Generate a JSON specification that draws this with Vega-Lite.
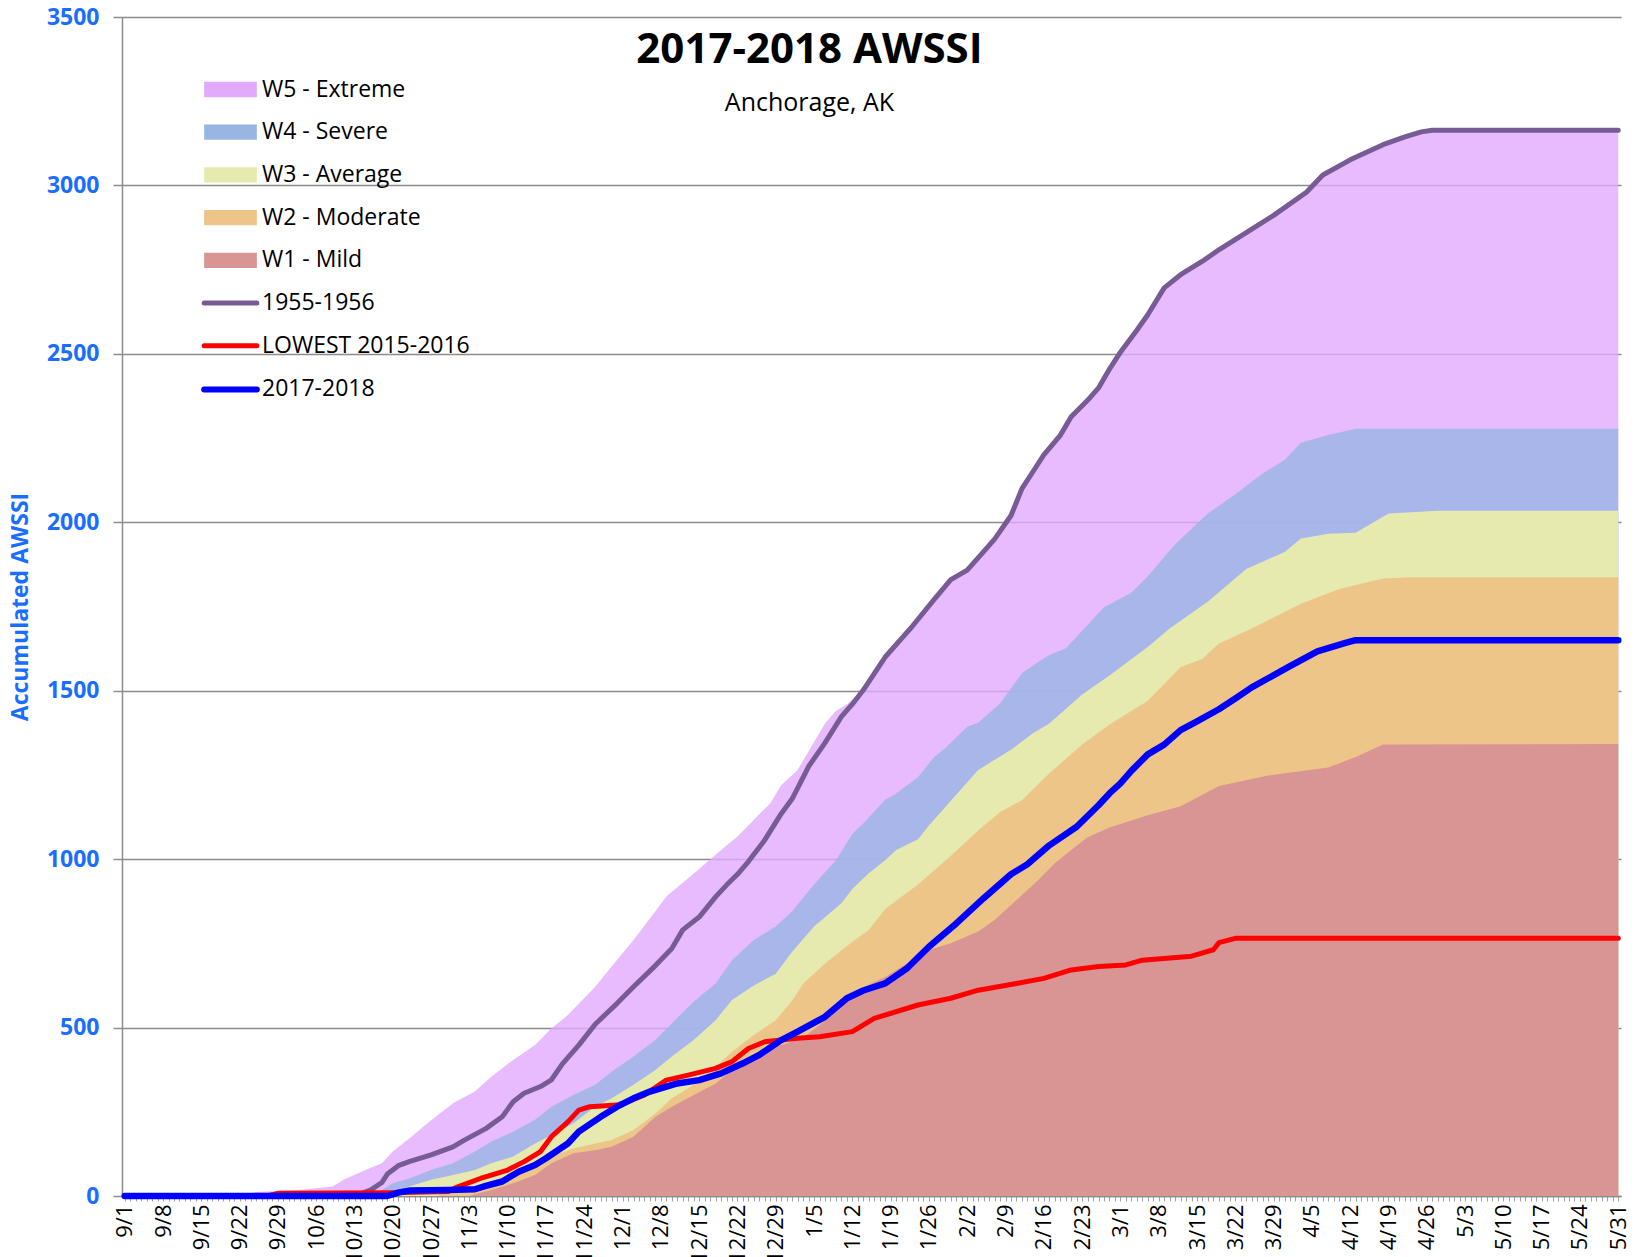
{
  "$schema": "https://vega.github.io/schema/vega-lite/v6.json",
  "width": 1499,
  "height": 1179,
  "autosize": {"type": "none"},
  "padding": {"left": 122, "top": 17, "right": 16, "bottom": 61},
  "background": "#FFFFFF",
  "config": {"view": {"stroke": null}, "font": "Open Sans"},
  "title": {"text": "2017-2018 AWSSI", "subtitle": "Anchorage, AK", "anchor": "middle", "frame": "group", "offset": -110.5, "dx": -62, "font": "Open Sans", "fontSize": 42, "fontWeight": "bold", "color": "#000000", "subtitleFont": "Open Sans", "subtitleFontSize": 25, "subtitleColor": "#000000", "subtitlePadding": 19},
  "data": {"values": [
    {"date":"9/1","series":"W5 - Extreme","value":0},{"date":"9/22","series":"W5 - Extreme","value":0},{"date":"9/25","series":"W5 - Extreme","value":12},{"date":"10/3","series":"W5 - Extreme","value":18},{"date":"10/9","series":"W5 - Extreme","value":28},{"date":"10/11","series":"W5 - Extreme","value":48},{"date":"10/15","series":"W5 - Extreme","value":77},{"date":"10/18","series":"W5 - Extreme","value":97},{"date":"10/20","series":"W5 - Extreme","value":132},{"date":"10/23","series":"W5 - Extreme","value":171},{"date":"10/27","series":"W5 - Extreme","value":225},{"date":"10/31","series":"W5 - Extreme","value":275},{"date":"11/4","series":"W5 - Extreme","value":310},{"date":"11/7","series":"W5 - Extreme","value":354},{"date":"11/11","series":"W5 - Extreme","value":404},{"date":"11/15","series":"W5 - Extreme","value":448},{"date":"11/18","series":"W5 - Extreme","value":498},{"date":"11/21","series":"W5 - Extreme","value":537},{"date":"11/26","series":"W5 - Extreme","value":621},{"date":"11/29","series":"W5 - Extreme","value":681},{"date":"12/3","series":"W5 - Extreme","value":760},{"date":"12/7","series":"W5 - Extreme","value":845},{"date":"12/9","series":"W5 - Extreme","value":889},{"date":"12/15","series":"W5 - Extreme","value":971},{"date":"12/19","series":"W5 - Extreme","value":1027},{"date":"12/22","series":"W5 - Extreme","value":1067},{"date":"12/28","series":"W5 - Extreme","value":1166},{"date":"12/30","series":"W5 - Extreme","value":1219},{"date":"1/2","series":"W5 - Extreme","value":1265},{"date":"1/4","series":"W5 - Extreme","value":1320},{"date":"1/7","series":"W5 - Extreme","value":1403},{"date":"1/9","series":"W5 - Extreme","value":1440},{"date":"1/11","series":"W5 - Extreme","value":1460},{"date":"1/14","series":"W5 - Extreme","value":1502},{"date":"1/18","series":"W5 - Extreme","value":1600},{"date":"1/23","series":"W5 - Extreme","value":1692},{"date":"1/27","series":"W5 - Extreme","value":1772},{"date":"1/30","series":"W5 - Extreme","value":1830},{"date":"2/2","series":"W5 - Extreme","value":1858},{"date":"2/5","series":"W5 - Extreme","value":1913},{"date":"2/7","series":"W5 - Extreme","value":1950},{"date":"2/10","series":"W5 - Extreme","value":2020},{"date":"2/12","series":"W5 - Extreme","value":2100},{"date":"2/14","series":"W5 - Extreme","value":2150},{"date":"2/16","series":"W5 - Extreme","value":2200},{"date":"2/19","series":"W5 - Extreme","value":2258},{"date":"2/21","series":"W5 - Extreme","value":2313},{"date":"2/24","series":"W5 - Extreme","value":2362},{"date":"2/26","series":"W5 - Extreme","value":2399},{"date":"2/28","series":"W5 - Extreme","value":2455},{"date":"3/1","series":"W5 - Extreme","value":2505},{"date":"3/4","series":"W5 - Extreme","value":2570},{"date":"3/6","series":"W5 - Extreme","value":2616},{"date":"3/9","series":"W5 - Extreme","value":2696},{"date":"3/12","series":"W5 - Extreme","value":2735},{"date":"3/16","series":"W5 - Extreme","value":2775},{"date":"3/19","series":"W5 - Extreme","value":2809},{"date":"3/24","series":"W5 - Extreme","value":2860},{"date":"3/29","series":"W5 - Extreme","value":2911},{"date":"4/4","series":"W5 - Extreme","value":2980},{"date":"4/7","series":"W5 - Extreme","value":3031},{"date":"4/12","series":"W5 - Extreme","value":3076},{"date":"4/18","series":"W5 - Extreme","value":3121},{"date":"4/22","series":"W5 - Extreme","value":3144},{"date":"4/25","series":"W5 - Extreme","value":3159},{"date":"4/27","series":"W5 - Extreme","value":3164},{"date":"5/31","series":"W5 - Extreme","value":3164},

    {"date":"9/1","series":"W4 - Severe","value":0},{"date":"10/15","series":"W4 - Severe","value":0},{"date":"10/17","series":"W4 - Severe","value":8},{"date":"10/20","series":"W4 - Severe","value":38},{"date":"10/23","series":"W4 - Severe","value":52},{"date":"10/27","series":"W4 - Severe","value":77},{"date":"10/31","series":"W4 - Severe","value":97},{"date":"11/4","series":"W4 - Severe","value":132},{"date":"11/7","series":"W4 - Severe","value":161},{"date":"11/11","series":"W4 - Severe","value":191},{"date":"11/15","series":"W4 - Severe","value":226},{"date":"11/18","series":"W4 - Severe","value":265},{"date":"11/22","series":"W4 - Severe","value":300},{"date":"11/26","series":"W4 - Severe","value":330},{"date":"11/29","series":"W4 - Severe","value":369},{"date":"12/3","series":"W4 - Severe","value":414},{"date":"12/7","series":"W4 - Severe","value":463},{"date":"12/10","series":"W4 - Severe","value":513},{"date":"12/14","series":"W4 - Severe","value":577},{"date":"12/18","series":"W4 - Severe","value":631},{"date":"12/21","series":"W4 - Severe","value":700},{"date":"12/25","series":"W4 - Severe","value":760},{"date":"12/29","series":"W4 - Severe","value":800},{"date":"1/1","series":"W4 - Severe","value":845},{"date":"1/5","series":"W4 - Severe","value":925},{"date":"1/9","series":"W4 - Severe","value":997},{"date":"1/12","series":"W4 - Severe","value":1075},{"date":"1/14","series":"W4 - Severe","value":1106},{"date":"1/18","series":"W4 - Severe","value":1176},{"date":"1/20","series":"W4 - Severe","value":1195},{"date":"1/24","series":"W4 - Severe","value":1243},{"date":"1/27","series":"W4 - Severe","value":1304},{"date":"1/29","series":"W4 - Severe","value":1329},{"date":"2/2","series":"W4 - Severe","value":1393},{"date":"2/4","series":"W4 - Severe","value":1405},{"date":"2/8","series":"W4 - Severe","value":1462},{"date":"2/12","series":"W4 - Severe","value":1552},{"date":"2/15","series":"W4 - Severe","value":1585},{"date":"2/17","series":"W4 - Severe","value":1606},{"date":"2/20","series":"W4 - Severe","value":1625},{"date":"2/27","series":"W4 - Severe","value":1748},{"date":"3/3","series":"W4 - Severe","value":1791},{"date":"3/6","series":"W4 - Severe","value":1840},{"date":"3/11","series":"W4 - Severe","value":1935},{"date":"3/17","series":"W4 - Severe","value":2026},{"date":"3/22","series":"W4 - Severe","value":2083},{"date":"3/27","series":"W4 - Severe","value":2145},{"date":"3/31","series":"W4 - Severe","value":2185},{"date":"4/3","series":"W4 - Severe","value":2236},{"date":"4/8","series":"W4 - Severe","value":2259},{"date":"4/13","series":"W4 - Severe","value":2278},{"date":"5/31","series":"W4 - Severe","value":2278},

    {"date":"9/1","series":"W3 - Average","value":0},{"date":"10/19","series":"W3 - Average","value":0},{"date":"10/20","series":"W3 - Average","value":5},{"date":"10/23","series":"W3 - Average","value":28},{"date":"10/27","series":"W3 - Average","value":48},{"date":"10/31","series":"W3 - Average","value":62},{"date":"11/4","series":"W3 - Average","value":77},{"date":"11/7","series":"W3 - Average","value":97},{"date":"11/11","series":"W3 - Average","value":117},{"date":"11/15","series":"W3 - Average","value":156},{"date":"11/18","series":"W3 - Average","value":181},{"date":"11/22","series":"W3 - Average","value":216},{"date":"11/26","series":"W3 - Average","value":265},{"date":"11/29","series":"W3 - Average","value":290},{"date":"12/3","series":"W3 - Average","value":330},{"date":"12/7","series":"W3 - Average","value":374},{"date":"12/10","series":"W3 - Average","value":414},{"date":"12/14","series":"W3 - Average","value":463},{"date":"12/18","series":"W3 - Average","value":522},{"date":"12/21","series":"W3 - Average","value":582},{"date":"12/25","series":"W3 - Average","value":625},{"date":"12/29","series":"W3 - Average","value":660},{"date":"1/1","series":"W3 - Average","value":725},{"date":"1/5","series":"W3 - Average","value":800},{"date":"1/10","series":"W3 - Average","value":869},{"date":"1/12","series":"W3 - Average","value":911},{"date":"1/15","series":"W3 - Average","value":958},{"date":"1/18","series":"W3 - Average","value":997},{"date":"1/20","series":"W3 - Average","value":1027},{"date":"1/24","series":"W3 - Average","value":1059},{"date":"1/26","series":"W3 - Average","value":1100},{"date":"1/30","series":"W3 - Average","value":1173},{"date":"2/4","series":"W3 - Average","value":1265},{"date":"2/10","series":"W3 - Average","value":1325},{"date":"2/14","series":"W3 - Average","value":1374},{"date":"2/17","series":"W3 - Average","value":1403},{"date":"2/23","series":"W3 - Average","value":1489},{"date":"2/28","series":"W3 - Average","value":1545},{"date":"3/6","series":"W3 - Average","value":1630},{"date":"3/10","series":"W3 - Average","value":1685},{"date":"3/17","series":"W3 - Average","value":1765},{"date":"3/24","series":"W3 - Average","value":1861},{"date":"3/31","series":"W3 - Average","value":1912},{"date":"4/3","series":"W3 - Average","value":1952},{"date":"4/8","series":"W3 - Average","value":1966},{"date":"4/13","series":"W3 - Average","value":1969},{"date":"4/19","series":"W3 - Average","value":2026},{"date":"4/28","series":"W3 - Average","value":2034},{"date":"5/31","series":"W3 - Average","value":2034},

    {"date":"9/1","series":"W2 - Moderate","value":0},{"date":"10/28","series":"W2 - Moderate","value":0},{"date":"10/29","series":"W2 - Moderate","value":5},{"date":"10/31","series":"W2 - Moderate","value":18},{"date":"11/4","series":"W2 - Moderate","value":28},{"date":"11/7","series":"W2 - Moderate","value":43},{"date":"11/11","series":"W2 - Moderate","value":62},{"date":"11/15","series":"W2 - Moderate","value":87},{"date":"11/18","series":"W2 - Moderate","value":117},{"date":"11/22","series":"W2 - Moderate","value":141},{"date":"11/26","series":"W2 - Moderate","value":156},{"date":"11/29","series":"W2 - Moderate","value":166},{"date":"12/3","series":"W2 - Moderate","value":196},{"date":"12/7","series":"W2 - Moderate","value":245},{"date":"12/10","series":"W2 - Moderate","value":290},{"date":"12/14","series":"W2 - Moderate","value":330},{"date":"12/18","series":"W2 - Moderate","value":384},{"date":"12/21","series":"W2 - Moderate","value":428},{"date":"12/25","series":"W2 - Moderate","value":478},{"date":"12/29","series":"W2 - Moderate","value":522},{"date":"1/1","series":"W2 - Moderate","value":580},{"date":"1/3","series":"W2 - Moderate","value":630},{"date":"1/7","series":"W2 - Moderate","value":690},{"date":"1/12","series":"W2 - Moderate","value":755},{"date":"1/15","series":"W2 - Moderate","value":790},{"date":"1/18","series":"W2 - Moderate","value":852},{"date":"1/24","series":"W2 - Moderate","value":925},{"date":"1/30","series":"W2 - Moderate","value":1010},{"date":"2/4","series":"W2 - Moderate","value":1085},{"date":"2/8","series":"W2 - Moderate","value":1140},{"date":"2/12","series":"W2 - Moderate","value":1175},{"date":"2/17","series":"W2 - Moderate","value":1255},{"date":"2/23","series":"W2 - Moderate","value":1340},{"date":"2/28","series":"W2 - Moderate","value":1400},{"date":"3/6","series":"W2 - Moderate","value":1470},{"date":"3/12","series":"W2 - Moderate","value":1570},{"date":"3/16","series":"W2 - Moderate","value":1595},{"date":"3/19","series":"W2 - Moderate","value":1640},{"date":"3/25","series":"W2 - Moderate","value":1685},{"date":"4/3","series":"W2 - Moderate","value":1758},{"date":"4/10","series":"W2 - Moderate","value":1802},{"date":"4/18","series":"W2 - Moderate","value":1833},{"date":"4/23","series":"W2 - Moderate","value":1837},{"date":"5/31","series":"W2 - Moderate","value":1837},

    {"date":"9/1","series":"W1 - Mild","value":0},{"date":"11/3","series":"W1 - Mild","value":0},{"date":"11/4","series":"W1 - Mild","value":5},{"date":"11/7","series":"W1 - Mild","value":18},{"date":"11/11","series":"W1 - Mild","value":38},{"date":"11/15","series":"W1 - Mild","value":62},{"date":"11/18","series":"W1 - Mild","value":97},{"date":"11/22","series":"W1 - Mild","value":127},{"date":"11/26","series":"W1 - Mild","value":136},{"date":"11/29","series":"W1 - Mild","value":146},{"date":"12/3","series":"W1 - Mild","value":176},{"date":"12/7","series":"W1 - Mild","value":235},{"date":"12/10","series":"W1 - Mild","value":265},{"date":"12/14","series":"W1 - Mild","value":300},{"date":"12/18","series":"W1 - Mild","value":334},{"date":"12/21","series":"W1 - Mild","value":374},{"date":"12/25","series":"W1 - Mild","value":404},{"date":"12/29","series":"W1 - Mild","value":443},{"date":"1/1","series":"W1 - Mild","value":458},{"date":"1/3","series":"W1 - Mild","value":470},{"date":"1/7","series":"W1 - Mild","value":520},{"date":"1/11","series":"W1 - Mild","value":580},{"date":"1/14","series":"W1 - Mild","value":620},{"date":"1/18","series":"W1 - Mild","value":650},{"date":"1/22","series":"W1 - Mild","value":691},{"date":"1/26","series":"W1 - Mild","value":730},{"date":"1/30","series":"W1 - Mild","value":750},{"date":"2/4","series":"W1 - Mild","value":785},{"date":"2/7","series":"W1 - Mild","value":819},{"date":"2/11","series":"W1 - Mild","value":879},{"date":"2/15","series":"W1 - Mild","value":938},{"date":"2/18","series":"W1 - Mild","value":988},{"date":"2/21","series":"W1 - Mild","value":1027},{"date":"2/24","series":"W1 - Mild","value":1065},{"date":"2/28","series":"W1 - Mild","value":1094},{"date":"3/6","series":"W1 - Mild","value":1130},{"date":"3/12","series":"W1 - Mild","value":1157},{"date":"3/14","series":"W1 - Mild","value":1174},{"date":"3/19","series":"W1 - Mild","value":1217},{"date":"3/28","series":"W1 - Mild","value":1248},{"date":"4/8","series":"W1 - Mild","value":1272},{"date":"4/13","series":"W1 - Mild","value":1303},{"date":"4/18","series":"W1 - Mild","value":1340},{"date":"5/31","series":"W1 - Mild","value":1342},

    {"date":"9/1","series":"1955-1956","value":0},{"date":"10/13","series":"1955-1956","value":0},{"date":"10/16","series":"1955-1956","value":18},{"date":"10/18","series":"1955-1956","value":40},{"date":"10/19","series":"1955-1956","value":65},{"date":"10/21","series":"1955-1956","value":90},{"date":"10/23","series":"1955-1956","value":102},{"date":"10/27","series":"1955-1956","value":122},{"date":"10/31","series":"1955-1956","value":146},{"date":"11/2","series":"1955-1956","value":165},{"date":"11/6","series":"1955-1956","value":200},{"date":"11/9","series":"1955-1956","value":235},{"date":"11/11","series":"1955-1956","value":280},{"date":"11/13","series":"1955-1956","value":305},{"date":"11/16","series":"1955-1956","value":325},{"date":"11/18","series":"1955-1956","value":345},{"date":"11/20","series":"1955-1956","value":392},{"date":"11/23","series":"1955-1956","value":448},{"date":"11/26","series":"1955-1956","value":510},{"date":"11/30","series":"1955-1956","value":572},{"date":"12/3","series":"1955-1956","value":621},{"date":"12/7","series":"1955-1956","value":684},{"date":"12/10","series":"1955-1956","value":735},{"date":"12/12","series":"1955-1956","value":790},{"date":"12/15","series":"1955-1956","value":828},{"date":"12/18","series":"1955-1956","value":888},{"date":"12/20","series":"1955-1956","value":923},{"date":"12/22","series":"1955-1956","value":955},{"date":"12/24","series":"1955-1956","value":993},{"date":"12/27","series":"1955-1956","value":1057},{"date":"12/30","series":"1955-1956","value":1135},{"date":"1/1","series":"1955-1956","value":1179},{"date":"1/4","series":"1955-1956","value":1275},{"date":"1/7","series":"1955-1956","value":1345},{"date":"1/10","series":"1955-1956","value":1423},{"date":"1/12","series":"1955-1956","value":1460},{"date":"1/14","series":"1955-1956","value":1502},{"date":"1/18","series":"1955-1956","value":1600},{"date":"1/23","series":"1955-1956","value":1692},{"date":"1/27","series":"1955-1956","value":1772},{"date":"1/30","series":"1955-1956","value":1830},{"date":"2/2","series":"1955-1956","value":1858},{"date":"2/5","series":"1955-1956","value":1913},{"date":"2/7","series":"1955-1956","value":1950},{"date":"2/10","series":"1955-1956","value":2020},{"date":"2/12","series":"1955-1956","value":2100},{"date":"2/14","series":"1955-1956","value":2150},{"date":"2/16","series":"1955-1956","value":2200},{"date":"2/19","series":"1955-1956","value":2258},{"date":"2/21","series":"1955-1956","value":2313},{"date":"2/24","series":"1955-1956","value":2362},{"date":"2/26","series":"1955-1956","value":2399},{"date":"2/28","series":"1955-1956","value":2455},{"date":"3/1","series":"1955-1956","value":2505},{"date":"3/4","series":"1955-1956","value":2570},{"date":"3/6","series":"1955-1956","value":2616},{"date":"3/9","series":"1955-1956","value":2696},{"date":"3/12","series":"1955-1956","value":2735},{"date":"3/16","series":"1955-1956","value":2775},{"date":"3/19","series":"1955-1956","value":2809},{"date":"3/24","series":"1955-1956","value":2860},{"date":"3/29","series":"1955-1956","value":2911},{"date":"4/4","series":"1955-1956","value":2980},{"date":"4/7","series":"1955-1956","value":3031},{"date":"4/12","series":"1955-1956","value":3076},{"date":"4/18","series":"1955-1956","value":3121},{"date":"4/22","series":"1955-1956","value":3144},{"date":"4/25","series":"1955-1956","value":3159},{"date":"4/27","series":"1955-1956","value":3164},{"date":"5/31","series":"1955-1956","value":3164},

    {"date":"9/1","series":"LOWEST 2015-2016","value":0},{"date":"9/27","series":"LOWEST 2015-2016","value":0},{"date":"9/29","series":"LOWEST 2015-2016","value":8},{"date":"10/20","series":"LOWEST 2015-2016","value":10},{"date":"10/30","series":"LOWEST 2015-2016","value":13},{"date":"11/1","series":"LOWEST 2015-2016","value":28},{"date":"11/5","series":"LOWEST 2015-2016","value":52},{"date":"11/7","series":"LOWEST 2015-2016","value":62},{"date":"11/10","series":"LOWEST 2015-2016","value":77},{"date":"11/13","series":"LOWEST 2015-2016","value":102},{"date":"11/16","series":"LOWEST 2015-2016","value":132},{"date":"11/18","series":"LOWEST 2015-2016","value":176},{"date":"11/21","series":"LOWEST 2015-2016","value":220},{"date":"11/23","series":"LOWEST 2015-2016","value":255},{"date":"11/25","series":"LOWEST 2015-2016","value":265},{"date":"11/30","series":"LOWEST 2015-2016","value":270},{"date":"12/2","series":"LOWEST 2015-2016","value":280},{"date":"12/5","series":"LOWEST 2015-2016","value":300},{"date":"12/9","series":"LOWEST 2015-2016","value":344},{"date":"12/13","series":"LOWEST 2015-2016","value":359},{"date":"12/18","series":"LOWEST 2015-2016","value":379},{"date":"12/21","series":"LOWEST 2015-2016","value":399},{"date":"12/24","series":"LOWEST 2015-2016","value":438},{"date":"12/27","series":"LOWEST 2015-2016","value":458},{"date":"12/30","series":"LOWEST 2015-2016","value":463},{"date":"1/2","series":"LOWEST 2015-2016","value":468},{"date":"1/6","series":"LOWEST 2015-2016","value":473},{"date":"1/12","series":"LOWEST 2015-2016","value":488},{"date":"1/16","series":"LOWEST 2015-2016","value":527},{"date":"1/24","series":"LOWEST 2015-2016","value":567},{"date":"1/30","series":"LOWEST 2015-2016","value":587},{"date":"2/4","series":"LOWEST 2015-2016","value":611},{"date":"2/11","series":"LOWEST 2015-2016","value":631},{"date":"2/16","series":"LOWEST 2015-2016","value":646},{"date":"2/21","series":"LOWEST 2015-2016","value":671},{"date":"2/26","series":"LOWEST 2015-2016","value":681},{"date":"3/2","series":"LOWEST 2015-2016","value":686},{"date":"3/5","series":"LOWEST 2015-2016","value":700},{"date":"3/14","series":"LOWEST 2015-2016","value":712},{"date":"3/18","series":"LOWEST 2015-2016","value":731},{"date":"3/19","series":"LOWEST 2015-2016","value":752},{"date":"3/22","series":"LOWEST 2015-2016","value":765},{"date":"5/31","series":"LOWEST 2015-2016","value":765},

    {"date":"9/1","series":"2017-2018","value":0},{"date":"10/19","series":"2017-2018","value":0},{"date":"10/21","series":"2017-2018","value":10},{"date":"10/23","series":"2017-2018","value":16},{"date":"10/30","series":"2017-2018","value":18},{"date":"11/4","series":"2017-2018","value":20},{"date":"11/6","series":"2017-2018","value":30},{"date":"11/9","series":"2017-2018","value":43},{"date":"11/12","series":"2017-2018","value":72},{"date":"11/15","series":"2017-2018","value":92},{"date":"11/17","series":"2017-2018","value":112},{"date":"11/21","series":"2017-2018","value":156},{"date":"11/23","series":"2017-2018","value":191},{"date":"11/27","series":"2017-2018","value":235},{"date":"11/30","series":"2017-2018","value":265},{"date":"12/3","series":"2017-2018","value":290},{"date":"12/6","series":"2017-2018","value":310},{"date":"12/11","series":"2017-2018","value":334},{"date":"12/15","series":"2017-2018","value":344},{"date":"12/19","series":"2017-2018","value":364},{"date":"12/23","series":"2017-2018","value":394},{"date":"12/26","series":"2017-2018","value":419},{"date":"12/30","series":"2017-2018","value":463},{"date":"1/2","series":"2017-2018","value":488},{"date":"1/7","series":"2017-2018","value":532},{"date":"1/11","series":"2017-2018","value":587},{"date":"1/14","series":"2017-2018","value":610},{"date":"1/18","series":"2017-2018","value":631},{"date":"1/22","series":"2017-2018","value":676},{"date":"1/26","series":"2017-2018","value":740},{"date":"1/31","series":"2017-2018","value":809},{"date":"2/5","series":"2017-2018","value":884},{"date":"2/10","series":"2017-2018","value":955},{"date":"2/13","series":"2017-2018","value":985},{"date":"2/17","series":"2017-2018","value":1041},{"date":"2/22","series":"2017-2018","value":1096},{"date":"2/26","series":"2017-2018","value":1160},{"date":"2/28","series":"2017-2018","value":1195},{"date":"3/1","series":"2017-2018","value":1225},{"date":"3/3","series":"2017-2018","value":1262},{"date":"3/6","series":"2017-2018","value":1311},{"date":"3/9","series":"2017-2018","value":1340},{"date":"3/12","series":"2017-2018","value":1383},{"date":"3/15","series":"2017-2018","value":1409},{"date":"3/19","series":"2017-2018","value":1445},{"date":"3/22","series":"2017-2018","value":1477},{"date":"3/25","series":"2017-2018","value":1510},{"date":"4/1","series":"2017-2018","value":1573},{"date":"4/6","series":"2017-2018","value":1617},{"date":"4/11","series":"2017-2018","value":1641},{"date":"4/13","series":"2017-2018","value":1650},{"date":"5/31","series":"2017-2018","value":1650}
  ]},
  "encoding": {
    "x": {
      "field": "date", "type": "ordinal",
      "scale": {"type": "point", "padding": 0.5, "domain": ["9/1","9/2","9/3","9/4","9/5","9/6","9/7","9/8","9/9","9/10","9/11","9/12","9/13","9/14","9/15","9/16","9/17","9/18","9/19","9/20","9/21","9/22","9/23","9/24","9/25","9/26","9/27","9/28","9/29","9/30","10/1","10/2","10/3","10/4","10/5","10/6","10/7","10/8","10/9","10/10","10/11","10/12","10/13","10/14","10/15","10/16","10/17","10/18","10/19","10/20","10/21","10/22","10/23","10/24","10/25","10/26","10/27","10/28","10/29","10/30","10/31","11/1","11/2","11/3","11/4","11/5","11/6","11/7","11/8","11/9","11/10","11/11","11/12","11/13","11/14","11/15","11/16","11/17","11/18","11/19","11/20","11/21","11/22","11/23","11/24","11/25","11/26","11/27","11/28","11/29","11/30","12/1","12/2","12/3","12/4","12/5","12/6","12/7","12/8","12/9","12/10","12/11","12/12","12/13","12/14","12/15","12/16","12/17","12/18","12/19","12/20","12/21","12/22","12/23","12/24","12/25","12/26","12/27","12/28","12/29","12/30","12/31","1/1","1/2","1/3","1/4","1/5","1/6","1/7","1/8","1/9","1/10","1/11","1/12","1/13","1/14","1/15","1/16","1/17","1/18","1/19","1/20","1/21","1/22","1/23","1/24","1/25","1/26","1/27","1/28","1/29","1/30","1/31","2/1","2/2","2/3","2/4","2/5","2/6","2/7","2/8","2/9","2/10","2/11","2/12","2/13","2/14","2/15","2/16","2/17","2/18","2/19","2/20","2/21","2/22","2/23","2/24","2/25","2/26","2/27","2/28","2/29","3/1","3/2","3/3","3/4","3/5","3/6","3/7","3/8","3/9","3/10","3/11","3/12","3/13","3/14","3/15","3/16","3/17","3/18","3/19","3/20","3/21","3/22","3/23","3/24","3/25","3/26","3/27","3/28","3/29","3/30","3/31","4/1","4/2","4/3","4/4","4/5","4/6","4/7","4/8","4/9","4/10","4/11","4/12","4/13","4/14","4/15","4/16","4/17","4/18","4/19","4/20","4/21","4/22","4/23","4/24","4/25","4/26","4/27","4/28","4/29","4/30","5/1","5/2","5/3","5/4","5/5","5/6","5/7","5/8","5/9","5/10","5/11","5/12","5/13","5/14","5/15","5/16","5/17","5/18","5/19","5/20","5/21","5/22","5/23","5/24","5/25","5/26","5/27","5/28","5/29","5/30","5/31"]},
      "axis": {"title": null, "labelAngle": 270, "labelFont": "Open Sans", "labelFontSize": 22, "labelColor": "#000000", "labelOverlap": false, "labelBound": false, "labelPadding": 3, "labelExpr": "round(datum.index * 273) % 7 == 0 ? datum.label : ''", "tickSize": 5, "tickColor": "#A0A0A0", "tickWidth": 1, "domainColor": "#8C8C8C", "domainWidth": 1.5, "grid": false}
    },
    "y": {
      "field": "value", "type": "quantitative", "stack": null,
      "scale": {"domain": [0, 3500], "nice": false, "zero": true},
      "axis": {"title": "Accumulated AWSSI", "format": "d", "values": [0,500,1000,1500,2000,2500,3000,3500], "labelFont": "Open Sans", "labelFontWeight": "bold", "labelFontSize": 23, "labelColor": "#1A6EFF", "labelPadding": 14, "titleFont": "Open Sans", "titleFontWeight": "bold", "titleFontSize": 23, "titleColor": "#1A6EFF", "titlePadding": 14, "tickSize": 9, "tickColor": "#8C8C8C", "tickWidth": 1.5, "domainColor": "#8C8C8C", "domainWidth": 1.5, "grid": true, "gridColor": "#8C8C8C", "gridWidth": 1.5, "gridOpacity": 1}
    },
    "color": {
      "field": "series", "type": "nominal",
      "scale": {"domain": ["W5 - Extreme","W4 - Severe","W3 - Average","W2 - Moderate","W1 - Mild","1955-1956","LOWEST 2015-2016","2017-2018"], "range": ["#E1AAFC","#98B5E3","#E7EAAE","#EEC589","#D99594","#765B95","#FF0000","#0000FF"]},
      "legend": {"orient": "none", "legendX": 97, "legendY": 61, "title": null, "padding": 0, "symbolSize": 1156, "symbolStrokeWidth": 0, "labelFont": "Open Sans", "labelFontSize": 23, "labelColor": "#000000", "labelOffset": 20, "labelLimit": 400, "rowPadding": 18.7,
        "encode": {"symbols": {"update": {
          "shape": {"signal": "(datum.value=='1955-1956'||datum.value=='LOWEST 2015-2016'||datum.value=='2017-2018') ? 'M-1.55,0H1.55' : 'M-1.55,-0.45H1.55V0.45H-1.55Z'"},
          "fill": {"signal": "datum.value=='W5 - Extreme'?'#E6BAFC':datum.value=='W4 - Severe'?'#AAC4EC':datum.value=='W3 - Average'?'#FFFFB0':datum.value=='W2 - Moderate'?'#FACEAA':datum.value=='W1 - Mild'?'#DA9694':'transparent'"},
          "stroke": {"signal": "datum.value=='1955-1956'?'#765B95':datum.value=='LOWEST 2015-2016'?'#FF0000':datum.value=='2017-2018'?'#0000FF':'transparent'"},
          "strokeWidth": {"signal": "datum.value=='2017-2018'?6:((datum.value=='1955-1956'||datum.value=='LOWEST 2015-2016')?5:0)"},
          "strokeCap": {"value": "round"},
          "opacity": {"value": 1},
          "fillOpacity": {"value": 1},
          "strokeOpacity": {"value": 1}
        }}}
      }
    },
    "order": {"value": null}
  },
  "layer": [
    {"transform": [{"filter": {"field": "series", "equal": "W5 - Extreme"}}], "mark": {"type": "area", "opacity": 0.8}},
    {"transform": [{"filter": {"field": "series", "equal": "W4 - Severe"}}], "mark": {"type": "area", "opacity": 0.8}},
    {"transform": [{"filter": {"field": "series", "equal": "W3 - Average"}}], "mark": {"type": "area", "opacity": 1}},
    {"transform": [{"filter": {"field": "series", "equal": "W2 - Moderate"}}], "mark": {"type": "area", "opacity": 1}},
    {"transform": [{"filter": {"field": "series", "equal": "W1 - Mild"}}], "mark": {"type": "area", "opacity": 1}},
    {"transform": [{"filter": {"field": "series", "equal": "1955-1956"}}], "mark": {"type": "line", "strokeWidth": 5, "strokeCap": "round", "strokeJoin": "round"}},
    {"transform": [{"filter": {"field": "series", "equal": "LOWEST 2015-2016"}}], "mark": {"type": "line", "strokeWidth": 5, "strokeCap": "round", "strokeJoin": "round"}},
    {"transform": [{"filter": {"field": "series", "equal": "2017-2018"}}], "mark": {"type": "line", "strokeWidth": 6.5, "strokeCap": "round", "strokeJoin": "round"}}
  ]
}
